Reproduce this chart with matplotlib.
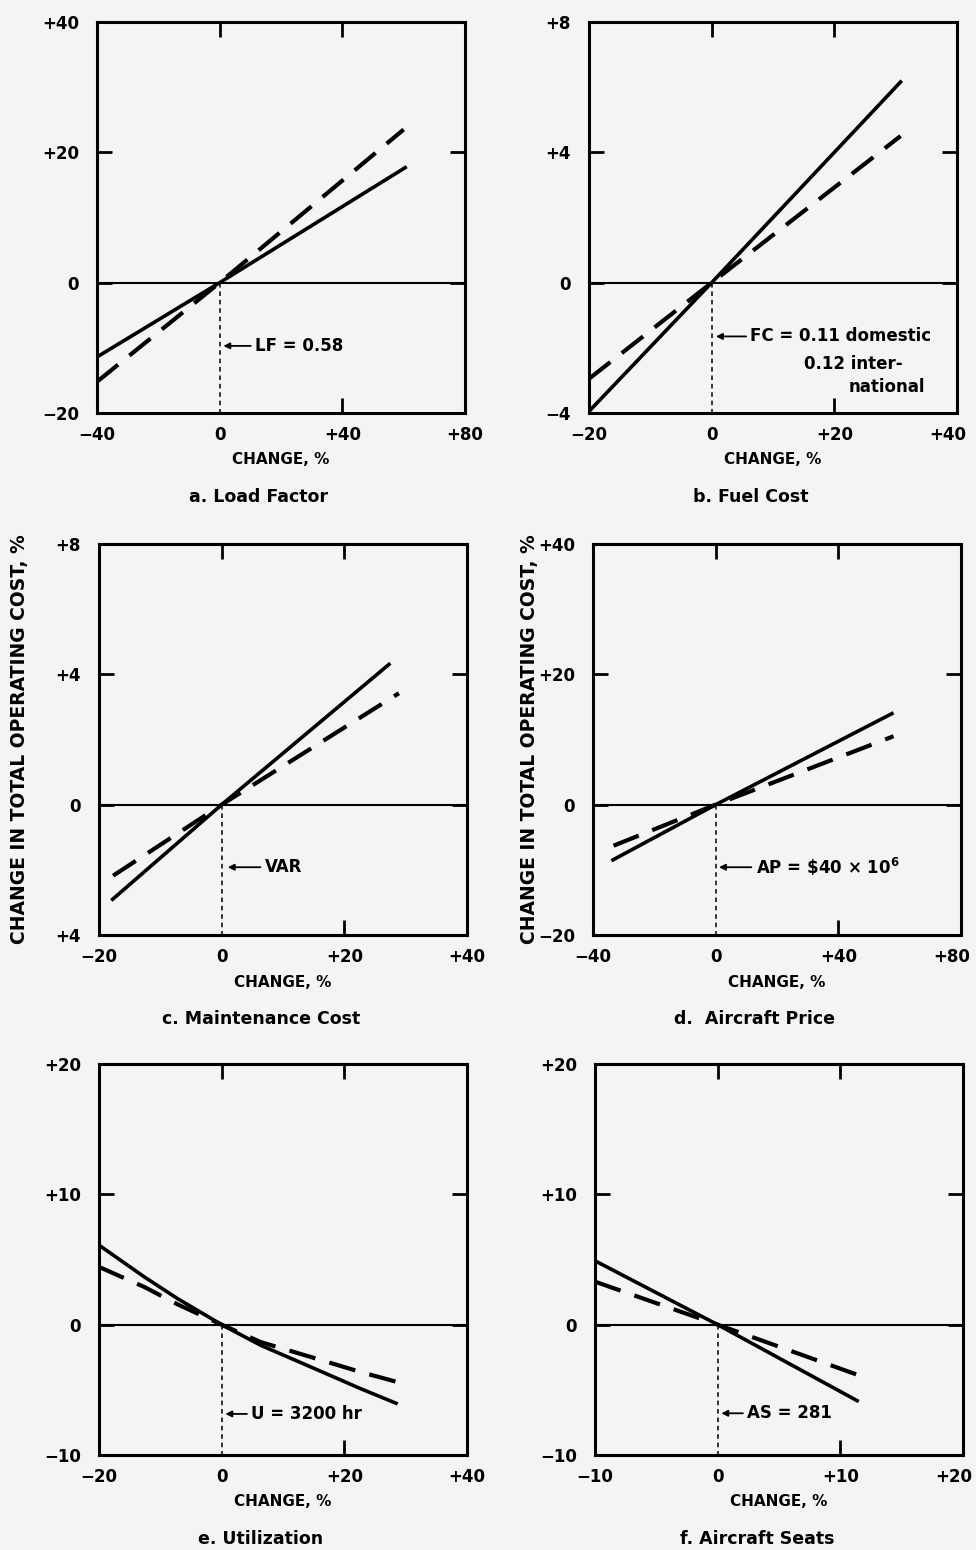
import matplotlib
matplotlib.use('Agg')
from matplotlib import pyplot as plt
from matplotlib import transforms

plt.rcParams['font.family'] = ['DejaVu Sans']
plt.rcParams['font.weight'] = 'bold'

BG = '#f4f4f4'

# a. Load Factor
a_x_solid = [-40, 0, 61]
a_solid = [-11.4, 0, 17.8]
a_x_dash = [-40, 0, 60]
a_dash = [-15.2, 0, 23.5]
a_xticks = [-40, 0, 40, 80]
a_xlabels = ['\u221240', '0', '+40', '+80']
a_yticks = [-20, 0, 20, 40]
a_ylabels = ['\u221220', '0', '+20', '+40']

# b. Fuel Cost
b_x_solid = [-20, 0, 31]
b_solid = [-3.95, 0, 6.2]
b_x_dash = [-20, 0, 30.8]
b_dash = [-2.95, 0, 4.5]
b_xticks = [-20, 0, 20, 40]
b_xlabels = ['\u221220', '0', '+20', '+40']
b_yticks = [-4, 0, 4, 8]
b_ylabels = ['\u22124', '0', '+4', '+8']

# c. Maintenance Cost
c_x_solid = [-18, 0, 27.5]
c_solid = [-2.94, 0, 4.34]
c_x_dash = [-17.7, 0, 28.9]
c_dash = [-2.18, 0, 3.42]
c_xticks = [-20, 0, 20, 40]
c_xlabels = ['\u221220', '0', '+20', '+40']
c_yticks = [-4, 0, 4, 8]
c_ylabels = ['+4', '0', '+4', '+8']

# d. Aircraft Price
d_x_solid = [-34, 0, 58]
d_solid = [-8.6, 0, 14.1]
d_x_dash = [-33.3, 0, 58]
d_dash = [-6.3, 0, 10.5]
d_xticks = [-40, 0, 40, 80]
d_xlabels = ['\u221240', '0', '+40', '+80']
d_yticks = [-20, 0, 20, 40]
d_ylabels = ['\u221220', '0', '+20', '+40']

# e. Utilization
e_x = [-20, -12.6, -7.2, 0, 6.4, 14.6, 22.7, 28.7]
e_solid = [6.1, 3.66, 2.0, 0, -1.59, -3.26, -4.92, -6.08]
e_dash = [4.43, 2.89, 1.56, 0, -1.34, -2.49, -3.64, -4.41]
e_xticks = [-20, 0, 20, 40]
e_xlabels = ['\u221220', '0', '+20', '+40']
e_yticks = [-10, 0, 10, 20]
e_ylabels = ['\u221210', '0', '+10', '+20']

# f. Aircraft Seats
f_x_solid = [-10, 0, 11.5]
f_solid = [4.9, 0, -5.9]
f_x_dash = [-10, 0, 11.4]
f_dash = [3.3, 0, -3.85]
f_xticks = [-10, 0, 10, 20]
f_xlabels = ['\u221210', '0', '+10', '+20']
f_yticks = [-10, 0, 10, 20]
f_ylabels = ['\u221210', '0', '+10', '+20']


def panel(rect, xs, ys, xd, yd, xticks, xlabels, yticks, ylabels, caption,
          nudge_last=False):
    ax = fig.add_axes(rect)
    ax.set_facecolor(BG)
    ax.set_xlim(xticks[0], xticks[-1])
    ax.set_ylim(yticks[0], yticks[-1])
    ax.set_xticks(xticks)
    ax.set_xticklabels(xlabels)
    ax.set_yticks(yticks)
    ax.set_yticklabels(ylabels)
    ax.tick_params(direction='in', length=11, width=2, top=True, right=True,
                   labelsize=12, pad=9)
    ax.tick_params(axis='y', pad=13)
    # no solid tick over the dotted reference line
    ax.xaxis.get_major_ticks()[1].tick1line.set_visible(False)
    if nudge_last:
        lab = ax.get_xticklabels()[-1]
        lab.set_transform(lab.get_transform() +
                          transforms.ScaledTranslation(-9 / 100, 0, fig.dpi_scale_trans))
    for s in ax.spines.values():
        s.set_linewidth(2.2)
    ax.axhline(0, color='k', lw=1.5)
    ax.plot([0, 0], [0, yticks[0]], color='k', lw=1.1, ls=(0, (3, 2.5)))
    ax.plot(xs, ys, color='k', lw=2.6, solid_capstyle='butt')
    ax.plot(xd, yd, color='k', lw=3, dashes=(6.5, 3.5))
    ax.text(0.5, -47 / 391, 'CHANGE, %', transform=ax.transAxes,
            ha='center', va='center', fontsize=11)
    ax.text(0.44, -84 / 391, caption, transform=ax.transAxes,
            ha='center', va='center', fontsize=12.5)
    return ax


def note(ax, tip, xt, text):
    ax.annotate(text, xy=tip, xytext=(xt, tip[1]), ha='left', va='center',
                fontsize=12,
                arrowprops=dict(arrowstyle='-|>', color='k', lw=1.3,
                                mutation_scale=9, shrinkA=1, shrinkB=0))


fig = plt.figure(figsize=(9.76, 15.5), dpi=100)
fig.patch.set_facecolor(BG)

W = 368 / 976
H = 391 / 1550

ax_a = panel([97 / 976, 1 - 413 / 1550, W, H], a_x_solid, a_solid, a_x_dash, a_dash,
             a_xticks, a_xlabels, a_yticks, a_ylabels, 'a. Load Factor')
note(ax_a, (1.2, -9.7), 11.5, 'LF = 0.58')

ax_b = panel([589 / 976, 1 - 413 / 1550, W, H], b_x_solid, b_solid, b_x_dash, b_dash,
             b_xticks, b_xlabels, b_yticks, b_ylabels, 'b. Fuel Cost', nudge_last=True)
note(ax_b, (0.7, -1.65), 6.3, 'FC = 0.11 domestic')
ax_b.text(15.1, -2.49, '0.12 inter-', ha='left', va='center', fontsize=12)
ax_b.text(22.4, -3.21, 'national', ha='left', va='center', fontsize=12)

ax_c = panel([99 / 976, 1 - 935 / 1550, W, H], c_x_solid, c_solid, c_x_dash, c_dash,
             c_xticks, c_xlabels, c_yticks, c_ylabels, 'c. Maintenance Cost')
note(ax_c, (1.0, -1.92), 7.0, 'VAR')

ax_d = panel([593 / 976, 1 - 935 / 1550, W, H], d_x_solid, d_solid, d_x_dash, d_dash,
             d_xticks, d_xlabels, d_yticks, d_ylabels, 'd.  Aircraft Price',
             nudge_last=True)
note(ax_d, (1.1, -9.6), 13.0, 'AP = \\$40 \u00d7 10$^6$')

ax_e = panel([99 / 976, 1 - 1455 / 1550, W, H], e_x, e_solid, e_x, e_dash,
             e_xticks, e_xlabels, e_yticks, e_ylabels, 'e. Utilization')
note(ax_e, (0.6, -6.85), 4.8, 'U = 3200 hr')

ax_f = panel([595 / 976, 1 - 1455 / 1550, W, H], f_x_solid, f_solid, f_x_dash, f_dash,
             f_xticks, f_xlabels, f_yticks, f_ylabels, 'f. Aircraft Seats',
             nudge_last=True)
note(ax_f, (0.3, -6.8), 2.4, 'AS = 281')

ylab = 'CHANGE IN TOTAL OPERATING COST, %'
for ax, off in [(ax_c, 79), (ax_d, 63)]:
    ax.text(-off / 368, 0.5, ylab, transform=ax.transAxes, rotation=90,
            ha='center', va='center', fontsize=13.5)

fig.savefig('out.png', dpi=100, facecolor=BG)
